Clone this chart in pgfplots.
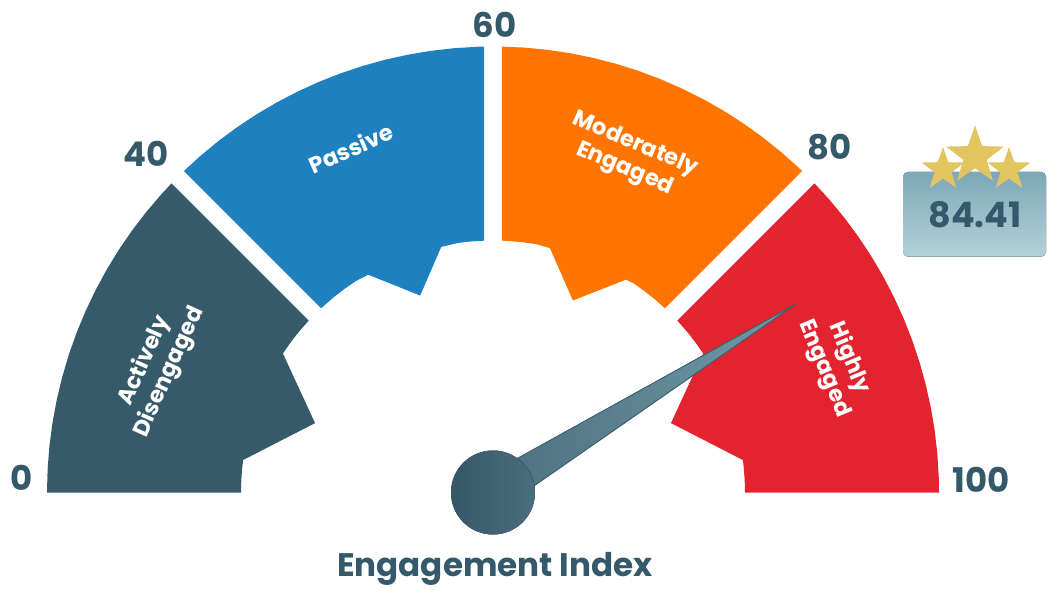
\documentclass[border=0pt]{standalone}
\usepackage{fontspec}
\setmainfont{Poppins}
\usepackage{pgfplots}
\pgfplotsset{compat=1.18}
\usetikzlibrary{shapes.geometric}

\definecolor{slate}{HTML}{365A6A}
\definecolor{passive}{HTML}{1F80BF}
\definecolor{moder}{HTML}{FF7500}
\definecolor{high}{HTML}{E3232D}
\definecolor{ink}{HTML}{33596A}
\definecolor{gold}{HTML}{E3C55F}
\definecolor{boxtop}{HTML}{7DA8B7}
\definecolor{boxbot}{HTML}{B5D1D9}
\definecolor{hubL}{HTML}{355868}
\definecolor{hubR}{HTML}{4A6E7D}
\definecolor{needleR}{HTML}{729AA7}
\definecolor{needleEdge}{HTML}{3C6070}

\begin{document}
\begin{tikzpicture}
\begin{axis}[
    x=0.5pt, y=0.5pt,
    xmin=-493, xmax=555,
    ymin=-96.5, ymax=492.5,
    hide axis,
    clip=false,
]
\coordinate (bl) at (axis cs:-493,-96.5);
\coordinate (tr) at (axis cs:555,492.5);

% bands: (angle, radius); 0..40 -> 180..135, 40..60 -> 135..90, 60..80 -> 90..45, 80..100 -> 45..0
% Actively Disengaged (0-40)
\addplot[data cs=polar, fill=slate, draw=none] coordinates {
(180,446) (177,446) (174,446) (171,446) (168,446) (165,446) (162,446) (159,446)
(156,446) (153,446) (150,446) (147,446) (144,446) (141,446) (138,446) (136.13,446)
(137,252) (140,252) (143,252) (146.5,252) (158.7,191) (172.6,252) (175,252) (178,252) (180,252)
};
% Passive (40-60)
\addplot[data cs=polar, fill=passive, draw=none] coordinates {
(133.87,446) (131,446) (128,446) (125,446) (122,446) (119,446) (116,446) (113,446)
(110,446) (107,446) (104,446) (101,446) (98,446) (95,446) (92,446) (91.13,446)
(92,252) (95,252) (98,252) (101.9,251) (110.3,210) (119.8,251) (123,252) (126,252) (129,252) (133,252)
};
% Moderately Engaged (60-80)
\addplot[data cs=polar, fill=moder, draw=none] coordinates {
(88.87,446) (86,446) (83,446) (80,446) (77,446) (74,446) (71,446) (68,446)
(65,446) (62,446) (59,446) (56,446) (53,446) (50,446) (47,446) (46.13,446)
(47,252) (50,252) (53,252) (56,252) (58,251) (67.4,208) (76.9,251) (80,252) (83,252) (86,252) (88,252)
};
% Highly Engaged (80-100)
\addplot[data cs=polar, fill=high, draw=none] coordinates {
(43.87,446) (41,446) (38,446) (35,446) (32,446) (29,446) (26,446) (23,446)
(20,446) (17,446) (14,446) (11,446) (8,446) (5,446) (2,446) (0,446)
(0,252) (3,252) (6,252) (7.4,252) (21.3,191) (33.5,252) (36,252) (39,252) (42,252) (43,252)
};

% needle, value 84.41
\addplot[data cs=polar, draw=needleEdge, line width=0.5pt, left color=hubR, right color=needleR]
coordinates {(121.9,18) (31.9,356) (-58.1,18)};
\fill[left color=hubL, right color=hubR] (axis cs:0,0) circle[radius=21pt];

% scale labels
\begin{scope}[every node/.style={font=\bfseries\fontsize{17}{20}\selectfont, text=ink, inner sep=0pt}]
\node at (axis cs:-471.3,14.5) {0};
\node at (axis cs:-347,338.8) {40};
\node at (axis cs:1.3,467.8) {60};
\node at (axis cs:337,345.8) {80};
\node at (axis cs:488,12.5) {100};
\node[anchor=base, font=\bfseries\fontsize{16.3}{20}\selectfont] at (axis cs:2,-84.2) {Engagement Index};
\end{scope}

% band names
\begin{scope}[every node/.style={font=\bfseries\fontsize{11.3}{13.5}\selectfont, text=white, align=center, inner sep=0pt}]
\node[rotate=66] at (axis cs:-336,126) {Actively\\Disengaged};
\node[rotate=23.5] at (axis cs:-142,344.5) {Passive};
\node[rotate=-23] at (axis cs:137,335.5) {Moderately\\Engaged};
\node[rotate=-67.5] at (axis cs:343.7,129.2) {Highly\\Engaged};
\end{scope}

% value badge
\fill[rounded corners=2.5pt, top color=boxtop, middle color=boxtop, bottom color=boxbot]
  (axis cs:410,320.5) rectangle (axis cs:553,235.8);
\node[font=\bfseries\fontsize{17.5}{20}\selectfont, text=ink, inner sep=0pt] at (axis cs:482,277.5) {84.41};
\node[star, star points=5, star point ratio=2.5, fill=gold, inner sep=0pt, minimum size=22.5pt] at (axis cs:450,323) {};
\node[star, star points=5, star point ratio=2.5, fill=gold, inner sep=0pt, minimum size=22.5pt] at (axis cs:516,323) {};
\node[star, star points=5, star point ratio=2.5, fill=gold, inner sep=0pt, minimum size=30.5pt] at (axis cs:482,336.5) {};
\end{axis}
\pgfresetboundingbox
\path (bl) rectangle (tr);
\end{tikzpicture}
\end{document}
